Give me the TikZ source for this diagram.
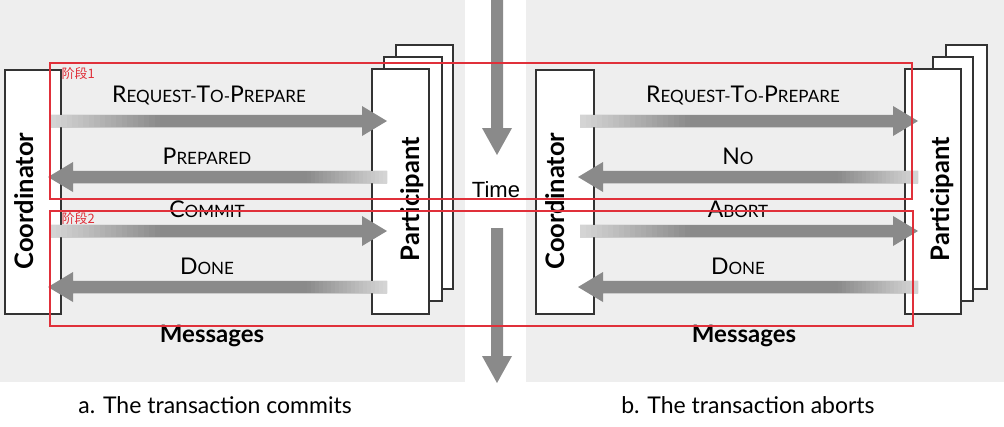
\documentclass[tikz,border=0pt]{standalone}
\usepackage{fontspec}
\setmainfont{Lato}
\newfontfamily\timefont{Liberation Sans}
\newfontfamily\cjk{Noto Sans CJK SC}
\usetikzlibrary{calc}
\definecolor{panel}{HTML}{EEEEEE}
\definecolor{ag}{HTML}{8A8A8A}
\definecolor{agl}{HTML}{D6D6D6}
\definecolor{redb}{HTML}{E0303A}
\definecolor{edge}{HTML}{333333}
\newcommand\capL[1]{{\fontsize{23}{23}\selectfont #1}}
\newcommand\capS[1]{{\fontsize{17}{17}\selectfont #1}}
\newcommand\rarrow[3]{% tail, tip, fade length
  \fill[ag] ($(#1)+(0,-6.25)$) -- ($(#2)+(-25,-6.25)$) -- ($(#2)+(-25,-15)$) -- (#2)
    -- ($(#2)+(-25,15)$) -- ($(#2)+(-25,6.25)$) -- ($(#1)+(0,6.25)$) -- cycle;
  \foreach \k [evaluate=\k as \p using int(\k*5+2)] in {0,...,19}{
    \fill[ag!\p!agl] ($(#1)+(\k*#3/20,-6.25)$) rectangle ($(#1)+(\k*#3/20+#3/20+0.4,6.25)$);
  }
}
\newcommand\larrow[3]{% tip, tail, fade length
  \fill[ag] ($(#2)+(0,-6.25)$) -- ($(#1)+(25,-6.25)$) -- ($(#1)+(25,-15)$) -- (#1)
    -- ($(#1)+(25,15)$) -- ($(#1)+(25,6.25)$) -- ($(#2)+(0,6.25)$) -- cycle;
  \foreach \k [evaluate=\k as \p using int(\k*5+2)] in {0,...,19}{
    \fill[ag!\p!agl] ($(#2)+(-\k*#3/20,-6.25)$) rectangle ($(#2)+(-\k*#3/20-#3/20-0.4,6.25)$);
  }
}
\newcommand\darrow[2]{% top, tip
  \fill[ag] ($(#1)+(-6,0)$) -- ($(#2)+(-6,-27)$) -- ($(#2)+(-15,-27)$) -- (#2)
    -- ($(#2)+(15,-27)$) -- ($(#2)+(6,-27)$) -- ($(#1)+(6,0)$) -- cycle;
}
\tikzset{
  box/.style={draw=edge, line width=1.4, fill=white, inner sep=0},
  lbl/.style={anchor=base, inner sep=0},
  vlbl/.style={rotate=90, anchor=base, inner sep=0, font=\bfseries\fontsize{25.5}{25.5}\selectfont},
  msg/.style={anchor=base, inner sep=0, font=\bfseries\fontsize{24}{24}\selectfont},
  capt/.style={anchor=base, inner sep=0, font=\fontsize{23}{23}\selectfont},
  phase/.style={draw=redb, line width=1.3, inner sep=0},
  phlbl/.style={anchor=west, inner sep=0, text=redb, font=\cjk\fontsize{13}{13}\selectfont},
}
\begin{document}
\begin{tikzpicture}[x=1pt,y=-1pt]
\useasboundingbox (0,0) rectangle (1004,426);
\fill[white] (0,0) rectangle (1004,426);
\fill[panel] (0,0) rectangle (465,382);
\fill[panel] (526,0) rectangle (1004,382);

% left panel boxes
\node[box, minimum width=56, minimum height=244] (cL) at (33,192) {};
\node[box, minimum width=57, minimum height=244] (pL3) at (424.5,167) {};
\node[box, minimum width=58, minimum height=244] (pL2) at (413,179) {};
\node[box, minimum width=57, minimum height=245] (pL1) at (400.5,191.5) {};
% right panel boxes
\node[box, minimum width=58, minimum height=244] (cR) at (565,192) {};
\node[box, minimum width=41, minimum height=244] (pR3) at (966.5,167) {};
\node[box, minimum width=40, minimum height=244] (pR2) at (953,179) {};
\node[box, minimum width=56, minimum height=245] (pR1) at (933,191.5) {};

% arrow end points
\coordinate (a1) at (50,121);  \coordinate (b1) at (387,121);
\coordinate (a2) at (48,177);  \coordinate (b2) at (387,177);
\coordinate (a3) at (50,231);  \coordinate (b3) at (387,231);
\coordinate (a4) at (48,287);  \coordinate (b4) at (387,287);
\coordinate (c1) at (580,121); \coordinate (d1) at (918,121);
\coordinate (c2) at (578,177); \coordinate (d2) at (918,177);
\coordinate (c3) at (580,231); \coordinate (d3) at (918,231);
\coordinate (c4) at (578,287); \coordinate (d4) at (918,287);
\coordinate (t1) at (497,0);   \coordinate (t2) at (497,155);
\coordinate (t3) at (497,228); \coordinate (t4) at (497,383);

\rarrow{a1}{b1}{110}
\larrow{a2}{b2}{80}
\rarrow{a3}{b3}{110}
\larrow{a4}{b4}{80}
\rarrow{c1}{d1}{110}
\larrow{c2}{d2}{80}
\rarrow{c3}{d3}{110}
\larrow{c4}{d4}{80}
\darrow{t1}{t2}
\darrow{t3}{t4}

% labels
\node[lbl] (l1) at (209,102) {\capL{R}\capS{EQUEST-}\capL{T}\capS{O-}\capL{P}\capS{REPARE}};
\node[lbl] (l2) at (207,164) {\capL{P}\capS{REPARED}};
\node[lbl] (l3) at (207,217) {\capL{C}\capS{OMMIT}};
\node[lbl] (l4) at (207,274) {\capL{D}\capS{ONE}};
\node[lbl] (r1) at (743,102) {\capL{R}\capS{EQUEST-}\capL{T}\capS{O-}\capL{P}\capS{REPARE}};
\node[lbl] (r2) at (738,164) {\capL{N}\capS{O}};
\node[lbl] (r3) at (738,217) {\capL{A}\capS{BORT}};
\node[lbl] (r4) at (738,274) {\capL{D}\capS{ONE}};

\node[vlbl] (tcL) at (33,201) {Coordinator};
\node[vlbl] (tpL) at (419,199) {Participant};
\node[vlbl] (tcR) at (564,201) {Coordinator};
\node[vlbl] (tpR) at (949,199) {Participant};

\node[msg] (mL) at (212,342) {Messages};
\node[msg] (mR) at (744,342) {Messages};
\node[capt] (capL) at (215,413) {a. The transaction commits};
\node[capt] (capR) at (748,413) {b. The transaction aborts};
\node[inner sep=0, font=\timefont\fontsize{22}{22}\selectfont] (time) at (496,190) {Time};

% phases
\node[phase, minimum width=862, minimum height=136] (ph1) at (481,131) {};
\node[phase, minimum width=863, minimum height=115] (ph2) at (481.5,268.5) {};
\node[phlbl] (ph1l) at ($(ph1.north west)+(12,11)$) {阶段1};
\node[phlbl] (ph2l) at ($(ph2.north west)+(12,8)$) {阶段2};
\end{tikzpicture}
\end{document}
